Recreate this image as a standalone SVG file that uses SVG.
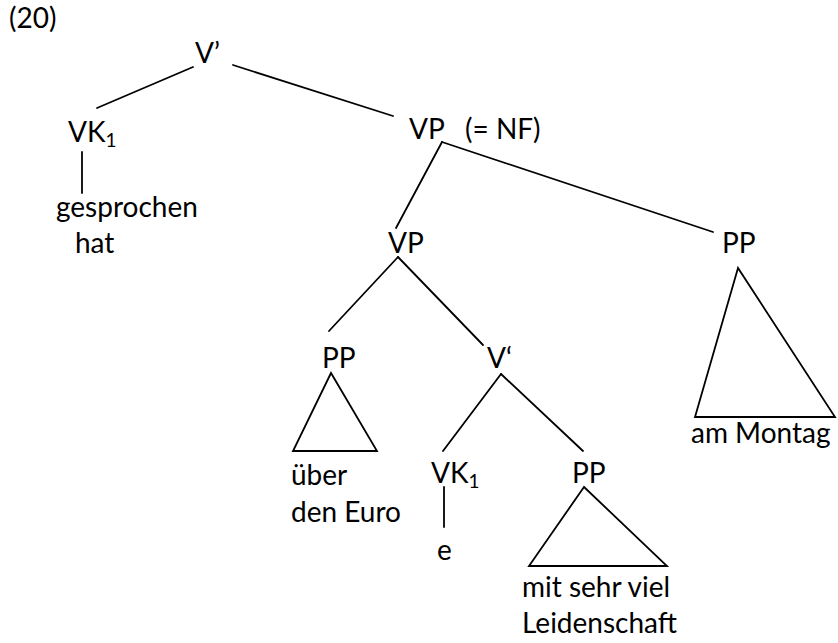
<svg xmlns="http://www.w3.org/2000/svg" width="838" height="643" viewBox="0 0 838 643">
  <style>
    text { font-family: Lato, "Noto Sans", "Liberation Sans", sans-serif; font-size: 28px; fill: #000; }
    .sub { font-size: 19px; }
    line, polygon { stroke: #000; stroke-width: 1.8; fill: none; stroke-linecap: round; stroke-linejoin: miter; }
  </style>
  <rect width="838" height="643" fill="#fff"/>

  <text id="label" x="9" y="28">(20)</text>

  <!-- tree branches -->
  <g id="connectors">
    <line x1="193" y1="67" x2="97" y2="108"/>
    <line x1="233" y1="65" x2="393" y2="116"/>
    <line x1="82" y1="152" x2="82" y2="193"/>
    <line x1="442" y1="142" x2="396" y2="228"/>
    <line x1="442" y1="142" x2="713" y2="232"/>
    <line x1="398" y1="257" x2="329" y2="331"/>
    <line x1="398" y1="257" x2="483" y2="345"/>
    <line x1="501" y1="374" x2="443" y2="451"/>
    <line x1="501" y1="374" x2="583" y2="451"/>
    <line x1="444" y1="487" x2="444" y2="527"/>
  </g>

  <g id="v-bar-top"><text x="195" y="63">V’</text></g>

  <g id="vk1-top">
    <text x="68" y="142">VK<tspan class="sub" dy="5">1</tspan></text>
  </g>
  <g id="gesprochen-hat">
    <text x="56" y="217">gesprochen</text>
    <text x="75" y="253">hat</text>
  </g>

  <g id="vp-nf">
    <text x="409" y="139">VP</text>
    <text x="465" y="139">(= NF)</text>
  </g>

  <g id="vp-inner"><text x="388" y="253">VP</text></g>

  <g id="pp-ueber">
    <text x="322" y="368">PP</text>
    <polygon points="331,373 293,451 377,451"/>
    <text x="291" y="485">über</text>
    <text x="291" y="522">den Euro</text>
  </g>

  <g id="v-bar-inner"><text x="487" y="368">V‘</text></g>

  <g id="vk1-inner">
    <text x="431" y="483">VK<tspan class="sub" dy="5">1</tspan></text>
    <text x="437" y="560">e</text>
  </g>

  <g id="pp-leidenschaft">
    <text x="572" y="483">PP</text>
    <polygon points="584,487 529,566 667,566"/>
    <text x="522" y="597">mit sehr viel</text>
    <text x="522" y="633">Leidenschaft</text>
  </g>

  <g id="pp-montag">
    <text x="722" y="253">PP</text>
    <polygon points="738,268 695,417 835,417"/>
    <text x="691" y="443">am Montag</text>
  </g>
</svg>
